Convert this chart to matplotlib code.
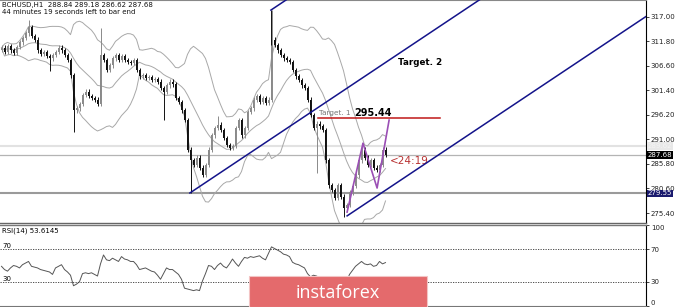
import numpy as np
import pandas as pd
import matplotlib
matplotlib.use('Agg')
import matplotlib.pyplot as plt
from matplotlib.patches import Rectangle

# H1 closes (one value per bar)
closes = [310.4, 309.5, 310.8, 309.9, 309.3, 310.6, 311.6, 312.5, 313.5, 314.8,
          312.9, 312.1, 309.9, 309.1, 309.5, 308.7, 308.2, 308.9, 309.5, 310.4,
          309.9, 308.9, 307.8, 304.6, 297.2, 297.6, 298.5, 300.4, 301.1, 300.2,
          299.8, 299.4, 298.5, 308.9, 307.8, 305.7, 306.7, 308.2, 308.9, 307.8,
          308.7, 307.8, 307.4, 307.2, 307.8, 305.7, 304.4, 304.6, 304.0, 304.2,
          303.6, 303.8, 303.2, 301.9, 301.1, 302.5, 303.2, 302.7, 299.8, 298.9,
          297.2, 295.1, 288.8, 286.6, 285.6, 287.1, 285.0, 283.5, 285.6, 288.8,
          291.9, 293.4, 294.1, 293.0, 291.3, 289.8, 289.2, 289.6, 293.4, 295.1,
          291.9, 293.4, 296.8, 297.6, 299.4, 300.2, 298.9, 299.8, 298.7, 299.4,
          312.1, 311.0, 309.9, 308.9, 308.2, 307.8, 307.4, 305.7, 304.4, 303.6,
          302.5, 301.9, 299.4, 296.2, 293.4, 294.3, 293.8, 293.0, 286.6, 281.3,
          280.3, 278.6, 281.3, 278.9, 276.4, 277.1, 279.8, 281.1, 283.4, 286.6,
          288.8, 287.1, 285.6, 286.6, 285.0, 284.5, 285.6, 288.8, 287.68]
first_open = 310.0
# long wicks: bar index -> extreme
wick_high = {9: 316.3, 33: 314.6, 90: 318.4, 72: 296.0, 120: 290.2}
wick_low = {24: 292.6, 54: 295.1, 63: 279.6, 105: 283.8, 114: 274.6, 16: 305.6}

rsi = [49, 45, 43, 47, 50, 49, 47, 51, 53, 55, 49, 48, 47, 45, 44, 43, 42, 39, 47, 49,
       51, 45, 42, 38, 25, 27, 30, 40, 41, 40, 41, 39, 37, 52, 63, 57, 56, 59, 57, 55,
       61, 58, 57, 55, 55, 51, 45, 46, 47, 45, 43, 42, 38, 33, 40, 47, 45, 45, 42, 39,
       33, 22, 21, 20, 19, 20, 19, 31, 40, 50, 49, 45, 50, 53, 49, 47, 52, 58, 53, 49,
       55, 60, 59, 61, 60, 61, 62, 59, 57, 65, 73, 71, 69, 67, 64, 63, 61, 54, 52, 51,
       49, 47, 40, 36, 38, 37, 35, 28, 24, 23, 22, 26, 24, 22, 25, 30, 39, 44, 49, 52,
       55, 52, 51, 52, 49, 50, 55, 52, 53.6145]

price_ticks = [317.00, 311.80, 306.60, 301.40, 296.20, 291.00, 285.80, 280.60, 275.40]
rsi_ticks = [100, 70, 30, 0]

# channel anchors (bar index, price)
channel_low = (62.8, 279.65)
channel_high = (89.8, 318.4)
channel2_low = (115.2, 274.8)
channel_slope = 0.424
zigzag_x = [115.2, 120.5, 125.2, 129.2]
zigzag_y = [275.6, 290.2, 280.7, 295.1]
target1 = 295.44
target1_span = (105.5, 146.2)
last_price = 287.68
ask_price = 289.62
support = 279.55

n = len(closes)
x = np.arange(n)
opens = [first_open] + closes[:-1]
highs = [max(o, c) + 0.5 for o, c in zip(opens, closes)]
lows = [min(o, c) - 0.5 for o, c in zip(opens, closes)]
for k, v in wick_high.items():
    highs[k] = v
for k, v in wick_low.items():
    lows[k] = v

W, H = 675, 307
fig = plt.figure(figsize=(W / 100, H / 100), dpi=100)
ax = fig.add_axes([0, 1 - 223 / H, 646 / W, 223 / H])
ax2 = fig.add_axes([0, 1 - 306 / H, 646 / W, 81 / H])
xlim = (-0.5, (646 - 1.5) / 3)

# bollinger bands
s = pd.Series(closes)
mid = s.rolling(14, min_periods=1).mean()
sd = s.rolling(14, min_periods=2).std().fillna(0)
for band in (mid + 2 * sd, mid, mid - 2 * sd):
    ax.plot(x, band, color='#a8a8a8', lw=0.7, zorder=2)

# horizontal levels
ax.axhline(ask_price, color='#e2e2e2', lw=1.5, zorder=1)
ax.axhline(last_price, color='#b4b4b4', lw=0.9, zorder=1)
ax.axhline(support, color='#9a9a9a', lw=1.5, zorder=1)

# candles
for i in range(n):
    up = closes[i] >= opens[i]
    col = '#8a8a8a' if up else '#111111'
    ax.vlines(x[i], lows[i], highs[i], color=col, lw=0.7, zorder=3)
    b = min(opens[i], closes[i])
    h = max(abs(closes[i] - opens[i]), 0.2)
    ax.bar(x[i], h, bottom=b, width=0.6, color=col, zorder=3)

# channel lines
navy = '#13138a'
xx = np.array([channel_low[0], 260])
ax.plot(xx, channel_low[1] + channel_slope * (xx - channel_low[0]), color=navy, lw=1.1, zorder=4)
xx = np.array([channel_high[0], 150])
ax.plot(xx, channel_high[1] + channel_slope * (xx - channel_high[0]), color=navy, lw=1.1, zorder=4)
ax.vlines(channel_high[0], 311, channel_high[1], color='#111111', lw=0.7, zorder=3)
xx = np.array([channel2_low[0], 260])
ax.plot(xx, channel2_low[1] + channel_slope * (xx - channel2_low[0]), color=navy, lw=1.1, zorder=4)

# zigzag and target
ax.plot(zigzag_x, zigzag_y, color='#9b4fb5', lw=1.2, zorder=5)
ax.plot(target1_span, [target1, target1], color='#c01818', lw=1.1, zorder=5)
ax.text(target1_span[0] + 0.3, target1 + 1.2, 'Target. 1', fontsize=5.2, color='#777777', va='center')
ax.text(117.6, target1 + 1.2, f'{target1:.2f}', fontsize=7, fontweight='bold', color='black', va='center')
ax.text(132.2, 307.4, 'Target. 2', fontsize=6.3, fontweight='bold', color='black', va='center')
ax.text(129.6, 286.4, '<24:19', fontsize=7.5, color='#b83232', va='center')

ax.set_xlim(*xlim)
ax.set_ylim(273.29, 320.54)
ax.set_xticks([])
ax.yaxis.tick_right()
ax.set_yticks(price_ticks)
ax.set_yticklabels([f'{t:.2f}' for t in price_ticks])
ax.tick_params(axis='y', labelsize=5, length=2, width=0.6, pad=1.5, colors='#222222')
ax.spines['left'].set_visible(False)
ax.spines['top'].set_color('#888888')
ax.spines['bottom'].set_color('#666666')
ax.spines['bottom'].set_linewidth(1.0)
ax.spines['right'].set_linewidth(0.8)

# price tags on the right
tags = [(ask_price, '#e8e8e8', '#f4f4f4'), (last_price, 'black', 'white'), (support, '#1a1a6e', 'white')]
for val, bg, fg in tags:
    ax.text(1.003, val, f'{val:.2f}', transform=ax.get_yaxis_transform(), fontsize=5, color=fg,
            va='center', ha='left', bbox=dict(boxstyle='square,pad=0.12', fc=bg, ec='none'), zorder=6,
            clip_on=False)

# header
fig.text(2 / W, 1 - 5 / H, 'BCHUSD,H1  288.84 289.18 286.62 287.68', fontsize=5, va='center', color='#111111')
fig.text(2 / W, 1 - 12 / H, '44 minutes 19 seconds left to bar end', fontsize=5, va='center', color='#111111')

# RSI panel
ax2.plot(x, rsi, color='#555555', lw=0.7)
ax2.axhline(70, color='#333333', lw=0.6, ls=(0, (1.5, 1.5)))
ax2.axhline(30, color='#333333', lw=0.6, ls=(0, (1.5, 1.5)))
ax2.set_xlim(*xlim)
ax2.set_ylim(0, 100)
ax2.set_xticks([])
ax2.yaxis.tick_right()
ax2.set_yticks(rsi_ticks)
ax2.set_yticklabels([str(t) for t in rsi_ticks])
for lbl, t in zip(ax2.get_yticklabels(), rsi_ticks):
    if t == 100:
        lbl.set_va('top')
    elif t == 0:
        lbl.set_va('bottom')
ax2.tick_params(axis='y', labelsize=5, length=2, width=0.6, pad=1.5, colors='#222222')
ax2.spines['left'].set_visible(False)
ax2.spines['top'].set_color('#777777')
ax2.spines['top'].set_linewidth(1.0)
ax2.spines['bottom'].set_color('#777777')
ax2.spines['right'].set_linewidth(0.8)
ytr = ax2.get_yaxis_transform()
ax2.text(0.003, 0.93, 'RSI(14) 53.6145', transform=ax2.transAxes, fontsize=5, va='center')
ax2.text(0.003, 70, '70', fontsize=5, va='bottom', ha='left', transform=ytr)
ax2.text(0.003, 30, '30', fontsize=5, va='bottom', ha='left', transform=ytr)

# logo
fig.patches.append(Rectangle((249 / W, 0), 178 / W, 31 / H, transform=fig.transFigure,
                             fc='#e46a6c', ec='#f3c4c4', lw=0.8, zorder=10))
fig.text(338 / W, 14 / H, 'instaforex', fontsize=13, color='white', family='Open Sans',
         ha='center', va='center', zorder=11)

fig.savefig('out.png', dpi=100)
